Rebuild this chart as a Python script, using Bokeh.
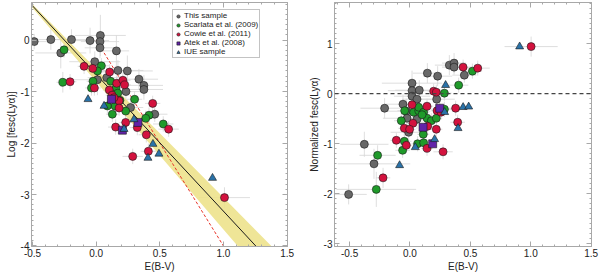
from bokeh.plotting import figure
from bokeh.models import (ColumnDataSource, LinearAxis, SingleIntervalTicker, NumeralTickFormatter,
                          CustomJSTickFormatter, Legend, LegendItem, Span, Range1d)
from bokeh.layouts import row
from bokeh.embed import file_html
from bokeh.resources import INLINE

FONT = "Liberation Sans"

# ---------------- Left panel data: Log fesc(Lya) vs E(B-V) ----------------
L_this_x = [-0.487, -0.356, -0.194, -0.048, 0.033, 0.030, 0.030, 0.159, -0.278, -0.011, 0.171, 0.245,
            0.336, 0.375, 0.375, 0.010, 0.083, 0.234, 0.460, 0.270]
L_this_y = [-0.03, 0.01, 0.01, -0.01, 0.09, -0.03, -0.15, -0.21, -0.25, -0.42, -0.59, -0.60,
            -0.76, -0.88, -0.96, -0.77, -0.73, -1.00, -1.44, -1.31]
L_this_xe = [0.10, 0.10, 0.12, 0.15, 0.20, 0.15, 0.12, 0.10, 0.20, 0.20, 0.20, 0.20,
             0.15, 0.15, 0.15, 0.20, 0.15, 0.12, 0.10, 0.10]
L_this_ye = [0.15, 0.20, 0.20, 0.25, 0.40, 0.20, 0.20, 0.30, 0.30, 0.20, 0.20, 0.30,
             0.20, 0.20, 0.20, 0.30, 0.20, 0.20, 0.15, 0.20]

L_scar_x = [-0.252, -0.262, 0.041, 0.010, -0.025, -0.037, 0.114, 0.156, 0.170, 0.187, 0.148, 0.088,
            0.127, 0.232, 0.302, 0.415, 0.389, 0.527]
L_scar_y = [-0.19, -0.82, -0.50, -0.60, -0.80, -0.93, -0.80, -0.93, -1.03, -1.17, -1.28, -1.28,
            -1.44, -1.38, -1.15, -1.46, -1.52, -1.63]
L_scar_xe = [0.05, 0.05, 0.06, 0.06, 0.05, 0.05, 0.06, 0.06, 0.05, 0.06, 0.05, 0.05,
             0.05, 0.06, 0.06, 0.08, 0.06, 0.08]
L_scar_ye = [0.15, 0.20, 0.15, 0.15, 0.15, 0.15, 0.15, 0.15, 0.15, 0.15, 0.15, 0.15,
             0.15, 0.15, 0.15, 0.15, 0.15, 0.15]

L_cowie_x = [-0.205, -0.095, -0.027, -0.014, 0.106, 0.103, 0.161, 0.210, 0.223, 0.125, 0.180, 0.180,
             0.153, 0.232, 0.323, 0.444, 0.569, 0.394, 0.410, 0.287, 1.008, 0.140]
L_cowie_y = [-0.81, -0.51, -0.55, -0.93, -0.62, -0.97, -0.84, -0.78, -0.87, -1.07, -1.18, -1.32,
             -1.69, -1.60, -1.70, -1.23, -1.73, -1.84, -2.16, -2.26, -3.06, -1.12]
L_cowie_xe = [0.05, 0.05, 0.05, 0.05, 0.06, 0.05, 0.05, 0.06, 0.05, 0.05, 0.05, 0.05,
              0.06, 0.05, 0.06, 0.06, 0.08, 0.06, 0.06, 0.08, 0.20, 0.05]
L_cowie_ye = [0.15, 0.15, 0.15, 0.15, 0.15, 0.15, 0.15, 0.15, 0.15, 0.15, 0.15, 0.15,
              0.15, 0.15, 0.15, 0.15, 0.15, 0.15, 0.15, 0.15, 0.20, 0.15]

L_atek_x = [0.120, 0.206, 0.328]
L_atek_y = [-1.15, -1.75, -1.60]

L_iue_x = [-0.064, 0.062, 0.219, 0.297, 0.446, 0.493, 0.407, 0.914]
L_iue_y = [-1.15, -1.28, -1.73, -1.54, -2.02, -2.21, -2.29, -2.68]

fit_x = [-0.52, 1.30]
fit_y = [0.718, -4.123]
dash_x = [0.0, 1.0]
dash_y = [0.0, -4.0]
band_x = [-0.52, 0.0, 0.5, 1.0, 1.5]
band_lo = [0.681, -0.81, -2.24, -3.68, -5.11]
band_hi = [0.746, -0.56, -1.81, -3.06, -4.31]

# ---------------- Right panel data: normalized fesc vs E(B-V) ----------------
R_this_x = [-0.210, 0.017, 0.017, 0.017, 0.058, -0.030, -0.058, 0.144, 0.229, 0.077, 0.221, 0.326,
            0.365, 0.365, 0.450, 0.246, -0.024, 0.058, -0.011, -0.378, -0.298, -0.508]
R_this_y = [-0.29, 0.21, 0.06, -0.05, -0.11, -0.35, -0.21, 0.41, 0.35, 0.07, -0.11, 0.57,
            0.61, 0.53, 0.37, -0.31, -0.49, -0.51, -0.77, -1.01, -1.40, -2.01]
R_this_xe = [0.20, 0.25, 0.20, 0.15, 0.12, 0.20, 0.15, 0.12, 0.12, 0.20, 0.15, 0.12,
             0.10, 0.10, 0.10, 0.15, 0.20, 0.12, 0.15, 0.20, 0.30, 0.15]
R_this_ye = [0.20, 0.25, 0.20, 0.20, 0.15, 0.25, 0.20, 0.20, 0.20, 0.20, 0.15, 0.20,
             0.20, 0.15, 0.15, 0.20, 0.25, 0.20, 0.25, 0.25, 0.30, 0.20]

R_scar_x = [0.285, 0.403, 0.517, -0.044, -0.072, 0.030, 0.072, 0.072, 0.113, 0.141, 0.177, 0.218,
            0.285, 0.110, -0.047, 0.063, 0.113, -0.061, -0.268, -0.279, 0.100]
R_scar_y = [0.01, 0.17, 0.45, -0.34, -0.54, -0.37, -0.34, -0.27, -0.37, -0.49, -0.54, -0.49,
            -0.31, -0.81, -0.95, -1.00, -0.98, -1.13, -1.23, -1.91, -0.42]
R_scar_xe = [0.06, 0.08, 0.08, 0.06, 0.06, 0.05, 0.05, 0.05, 0.05, 0.05, 0.05, 0.05,
             0.06, 0.05, 0.06, 0.05, 0.05, 0.06, 0.15, 0.33, 0.05]
R_scar_ye = [0.15, 0.15, 0.15, 0.15, 0.15, 0.15, 0.15, 0.15, 0.15, 0.15, 0.15, 0.15,
             0.15, 0.15, 0.15, 0.15, 0.15, 0.15, 0.20, 0.35, 0.15]

R_cowie_x = [0.440, 0.561, 1.003, 0.196, 0.218, 0.017, 0.141, 0.224, 0.378, 0.257, 0.395, -0.047,
             0.025, -0.003, 0.146, 0.218, -0.113, -0.030, 0.141, 0.274, -0.223]
R_cowie_y = [0.53, 0.51, 0.94, 0.05, 0.03, -0.22, -0.25, -0.34, -0.29, -0.37, -0.57, -0.69,
             -0.59, -0.71, -0.65, -0.71, -0.93, -1.03, -1.09, -1.16, -1.68]
R_cowie_xe = [0.08, 0.10, 0.22, 0.05, 0.05, 0.05, 0.05, 0.05, 0.06, 0.05, 0.06, 0.05,
              0.05, 0.05, 0.05, 0.05, 0.05, 0.05, 0.05, 0.08, 0.06]
R_cowie_ye = [0.15, 0.15, 0.20, 0.15, 0.15, 0.15, 0.15, 0.15, 0.15, 0.15, 0.15, 0.15,
              0.15, 0.15, 0.15, 0.15, 0.15, 0.15, 0.15, 0.15, 0.20]

R_atek_x = [0.246, 0.108, 0.188]
R_atek_y = [-0.29, -0.67, -1.00]

R_iue_x = [0.295, 0.908, 0.440, 0.486, 0.287, 0.398, 0.204, 0.044, -0.086]
R_iue_y = [0.17, 0.94, -0.27, -0.26, -0.37, -0.69, -0.91, -1.07, -1.43]

labels = ["This sample", "Scarlata et al. (2009)", "Cowie et al. (2011)", "Atek et al. (2008)", "IUE sample"]
C_GRAY, C_GREEN, C_RED, C_PURPLE, C_BLUE = "#686868", "#1f9a2a", "#d3123e", "#6223a8", "#2a72a8"
FRAME = "#a8a8a8"
H = 274


def cfg_axis(ax, ticker, fmt, show):
    ax.ticker = ticker
    ax.axis_line_color = FRAME
    ax.major_tick_line_color = FRAME
    ax.minor_tick_line_color = FRAME
    ax.major_tick_in = 5
    ax.major_tick_out = 0
    ax.minor_tick_in = 2
    ax.minor_tick_out = 0
    if show:
        ax.formatter = fmt
        ax.major_label_text_font = FONT
        ax.major_label_text_font_size = "10px"
        ax.major_label_text_color = "#222222"
        ax.major_label_standoff = 2
        ax.axis_label_text_font = FONT
        ax.axis_label_text_font_size = "10px"
        ax.axis_label_text_font_style = "normal"
        ax.axis_label_text_color = "#222222"
        ax.axis_label_standoff = 1
    else:
        ax.formatter = CustomJSTickFormatter(code="return ''")
        ax.major_label_standoff = 0


def make_fig(width, xr, yr, mbl, mbr, xlabel, ylabel):
    p = figure(width=width, height=H, x_range=Range1d(*xr), y_range=Range1d(*yr),
               output_backend="svg", toolbar_location=None,
               min_border_left=mbl, min_border_right=mbr, min_border_top=2, min_border_bottom=28)
    p.xgrid.visible = False
    p.ygrid.visible = False
    p.outline_line_color = FRAME
    p.xaxis.axis_label = xlabel
    p.yaxis.axis_label = ylabel
    xt = SingleIntervalTicker(interval=0.5, num_minor_ticks=5)
    yt = SingleIntervalTicker(interval=1, num_minor_ticks=10)
    cfg_axis(p.xaxis[0], xt, NumeralTickFormatter(format="0.0"), True)
    cfg_axis(p.yaxis[0], yt, NumeralTickFormatter(format="0"), True)
    top = LinearAxis()
    cfg_axis(top, xt, None, False)
    p.add_layout(top, "above")
    right = LinearAxis()
    cfg_axis(right, yt, None, False)
    p.add_layout(right, "right")
    return p


def errbars(p, x, y, xe, ye):
    src = ColumnDataSource(dict(
        x=x, y=y,
        xl=[a - e for a, e in zip(x, xe)], xh=[a + e for a, e in zip(x, xe)],
        yl=[a - e for a, e in zip(y, ye)], yh=[a + e for a, e in zip(y, ye)]))
    p.segment(x0="xl", y0="y", x1="xh", y1="y", source=src, line_color="#d6d6d6", line_width=0.8)
    p.segment(x0="x", y0="yl", x1="x", y1="yh", source=src, line_color="#d6d6d6", line_width=0.8)


def points(p, sets):
    rs = []
    (tx, ty), (sx, sy), (cx, cy), (ax_, ay), (ix, iy) = sets
    rs.append(p.scatter(tx, ty, marker="circle", size=8, fill_color=C_GRAY, line_color="#1a1a1a", line_width=0.6))
    rs.append(p.scatter(sx, sy, marker="circle", size=8, fill_color=C_GREEN, line_color="#1a1a1a", line_width=0.6))
    rs.append(p.scatter(cx, cy, marker="circle", size=8, fill_color=C_RED, line_color="#1a1a1a", line_width=0.6))
    rs.append(p.scatter(ax_, ay, marker="square", size=8, fill_color=C_PURPLE, line_color="#1a1a1a", line_width=0.6))
    rs.append(p.scatter(ix, iy, marker="triangle", size=8, fill_color=C_BLUE, line_color="#1a1a1a", line_width=0.6))
    return rs


# ---------------- Left figure ----------------
p1 = make_fig(300, (-0.508, 1.503), (-4.01, 0.73), 31, 13, "E(B-V)", "Log [fesc(Lyα)]")
errbars(p1, L_this_x, L_this_y, L_this_xe, L_this_ye)
errbars(p1, L_scar_x, L_scar_y, L_scar_xe, L_scar_ye)
errbars(p1, L_cowie_x, L_cowie_y, L_cowie_xe, L_cowie_ye)
p1.varea(x=band_x, y1=band_lo, y2=band_hi, fill_color="#ede28c", fill_alpha=0.9)
p1.line(dash_x, dash_y, line_color="#e8352a", line_width=1, line_dash="3 2")
p1.line(fit_x, fit_y, line_color="#1a1a1a", line_width=1)
r1 = points(p1, [(L_this_x, L_this_y), (L_scar_x, L_scar_y), (L_cowie_x, L_cowie_y),
                 (L_atek_x, L_atek_y), (L_iue_x, L_iue_y)])
legend = Legend(items=[LegendItem(label=l, renderers=[r]) for l, r in zip(labels, r1)],
                location=(141, 188), label_text_font=FONT, label_text_font_size="8px",
                label_text_line_height=1.0,
                label_text_color="#222222", label_height=8, glyph_height=8, glyph_width=8,
                spacing=0, padding=1, margin=0, label_standoff=2,
                border_line_color="#888888", background_fill_alpha=1)
p1.add_layout(legend)

# ---------------- Right figure ----------------
p2 = make_fig(300, (-0.625, 1.503), (-3.05, 1.82), 34, 9, "E(B-V)", "Normalized fesc(Lyα)")
errbars(p2, R_this_x, R_this_y, R_this_xe, R_this_ye)
errbars(p2, R_scar_x, R_scar_y, R_scar_xe, R_scar_ye)
errbars(p2, R_cowie_x, R_cowie_y, R_cowie_xe, R_cowie_ye)
p2.add_layout(Span(location=0, dimension="width", line_color="#444444", line_width=1.2, line_dash="4 3"))
points(p2, [(R_this_x, R_this_y), (R_scar_x, R_scar_y), (R_cowie_x, R_cowie_y),
            (R_atek_x, R_atek_y), (R_iue_x, R_iue_y)])

layout = row(p1, p2)
open("out.html", "w").write(file_html(layout, INLINE))
